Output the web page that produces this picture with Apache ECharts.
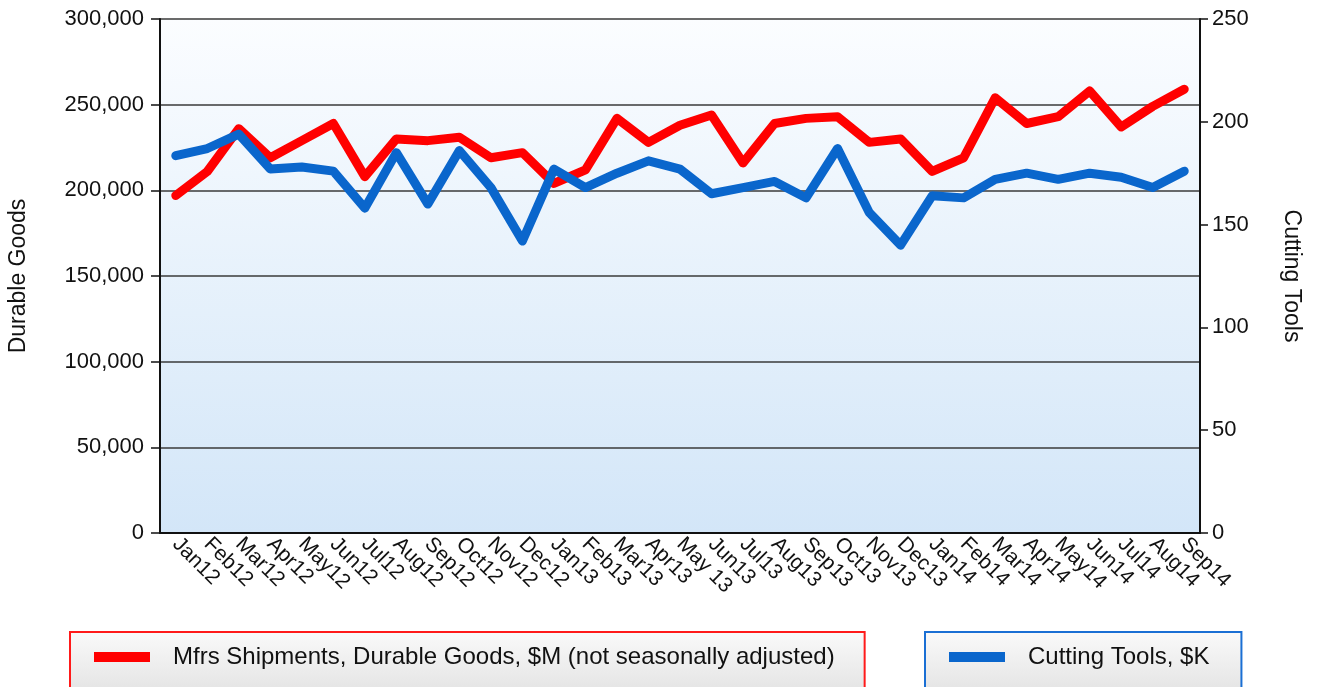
<!DOCTYPE html>
<html>
<head>
<meta charset="utf-8">
<script src="https://cdn.jsdelivr.net/npm/echarts@6/dist/echarts.min.js"></script>
<style>
  html, body { margin: 0; padding: 0; background: #fff; }
  #main { width: 1319px; height: 687px; }
</style>
</head>
<body>
<div id="main"></div>
<script>
var months = ['Jan12', 'Feb12', 'Mar12', 'Apr12', 'May12', 'Jun12', 'Jul12', 'Aug12', 'Sep12', 'Oct12', 'Nov12', 'Dec12',
	'Jan13', 'Feb13', 'Mar13', 'Apr13', 'May 13', 'Jun13', 'Jul13', 'Aug13', 'Sep13', 'Oct13', 'Nov13', 'Dec13',
	'Jan14', 'Feb14', 'Mar14', 'Apr14', 'May14', 'Jun14', 'Jul14', 'Aug14', 'Sep14'];
var durableGoods = [197000, 211000, 236000, 219000, 229000, 239000, 208000, 230000, 229000, 231000, 219000, 222000,
	204000, 212000, 242000, 228000, 238000, 244000, 216000, 239000, 242000, 243000, 228000, 230000,
	211000, 219000, 254000, 239000, 243000, 258000, 237000, 249000, 259000];
var cuttingTools = [183.5, 187, 194, 177, 178, 176, 158, 185, 160, 186, 168, 142,
	177, 168, 175, 181, 177, 165, 168, 171, 163, 187, 156, 140,
	164, 163, 172, 175, 172, 175, 173, 168, 176];
var leftTicks = { min: 0, max: 300000, step: 50000 };
var rightTicks = { min: 0, max: 250, step: 50 };
var seriesNames = ['Mfrs Shipments, Durable Goods, $M (not seasonally adjusted)', 'Cutting Tools, $K'];

var chart = echarts.init(document.getElementById('main'));
var font = 'Liberation Sans';

var legendBg = {
	type: 'linear', x: 0, y: 0, x2: 0, y2: 1,
	colorStops: [{ offset: 0, color: '#fafafa' }, { offset: 1, color: '#e4e4e4' }]
};

var option = {
	animation: false,
	textStyle: { fontFamily: font },
	grid: {
		left: 160, right: 119, top: 19, bottom: 154,
		outerBoundsMode: 'none',
		containLabel: false,
		show: true,
		borderWidth: 0,
		backgroundColor: {
			type: 'linear', x: 0, y: 0, x2: 0, y2: 1,
			colorStops: [{ offset: 0, color: '#fbfdff' }, { offset: 1, color: '#d3e6f8' }]
		}
	},
	legend: [{
		data: [seriesNames[0]],
		left: 70, top: 632,
		icon: 'rect', itemWidth: 56, itemHeight: 10,
		padding: [13, 30, 22, 24],
		borderColor: '#ff1a1a', borderWidth: 2,
		backgroundColor: legendBg,
		textStyle: { fontFamily: font, fontSize: 24, color: '#111', padding: [0, 0, 0, 18] }
	}, {
		data: [seriesNames[1]],
		left: 925, top: 632,
		icon: 'rect', itemWidth: 56, itemHeight: 10,
		padding: [13, 32, 22, 24],
		borderColor: '#1a6fd4', borderWidth: 2,
		backgroundColor: legendBg,
		textStyle: { fontFamily: font, fontSize: 24, color: '#111', padding: [0, 0, 0, 18] }
	}],
	xAxis: {
		type: 'category',
		data: months,
		boundaryGap: true,
		axisLine: { lineStyle: { color: '#111', width: 2 } },
		axisTick: { show: false },
		axisLabel: { rotate: -45, fontSize: 21, color: '#111', margin: 8, interval: 0 }
	},
	yAxis: [{
		type: 'value',
		min: leftTicks.min, max: leftTicks.max, interval: leftTicks.step,
		name: 'Durable Goods', nameLocation: 'middle', nameRotate: 90, nameGap: 130,
		nameTextStyle: { fontSize: 23, color: '#111' },
		axisLine: { show: true, lineStyle: { color: '#111', width: 2 } },
		axisTick: { show: true, length: 9, lineStyle: { color: '#111', width: 1.5 } },
		axisLabel: { fontSize: 22, color: '#111', margin: 16 },
		splitLine: { lineStyle: { color: '#3a3a3a', width: 1.5 } }
	}, {
		type: 'value',
		min: rightTicks.min, max: rightTicks.max, interval: rightTicks.step,
		name: 'Cutting Tools', nameLocation: 'middle', nameRotate: -90, nameGap: 80,
		nameTextStyle: { fontSize: 23, color: '#111' },
		axisLine: { show: true, lineStyle: { color: '#111', width: 2 } },
		axisTick: { show: true, length: 8, lineStyle: { color: '#111', width: 1.5 } },
		axisLabel: { fontSize: 22, color: '#111', margin: 12 },
		splitLine: { show: false }
	}],
	series: [{
		name: seriesNames[0],
		type: 'line',
		yAxisIndex: 0,
		data: durableGoods,
		symbol: 'none',
		itemStyle: { color: '#ff0000' },
		lineStyle: { color: '#ff0000', width: 9, cap: 'round', join: 'round' }
	}, {
		name: seriesNames[1],
		type: 'line',
		yAxisIndex: 1,
		data: cuttingTools,
		symbol: 'none',
		itemStyle: { color: '#0a66cc' },
		lineStyle: { color: '#0a66cc', width: 9, cap: 'round', join: 'round' }
	}]
};

chart.setOption(option);
</script>
</body>
</html>
